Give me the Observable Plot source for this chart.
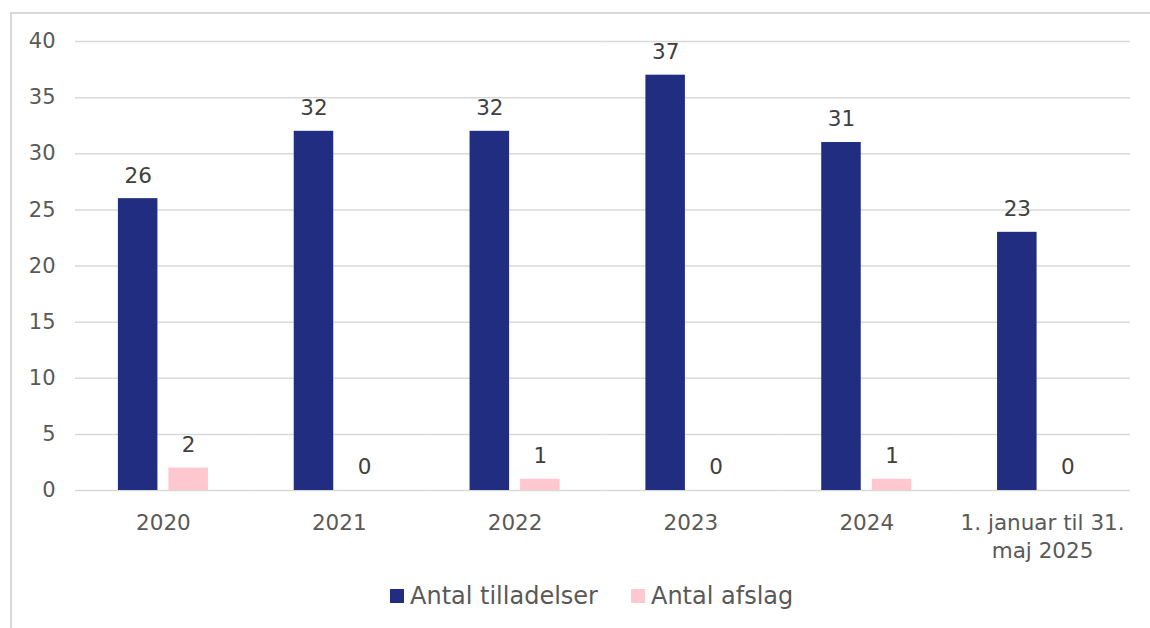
<!DOCTYPE html>
<html>
<head>
<meta charset="utf-8">
<script src="https://cdn.jsdelivr.net/npm/d3@7"></script>
<script src="https://cdn.jsdelivr.net/npm/@observablehq/plot@0.6"></script>
<style>
  html, body { margin: 0; padding: 0; background: #fff; overflow: hidden; }
  #wrap { position: relative; width: 1150px; height: 628px; font-family: "DejaVu Sans", Verdana, sans-serif; }
  #frame { position: absolute; left: 10px; top: 12px; width: 1300px; height: 800px; border-top: 2px solid #d9d9d9; border-left: 2px solid #d9d9d9; box-sizing: border-box; }
  #chart { position: absolute; left: 0; top: 0; }
  #legend { position: absolute; left: 390px; top: 582px; display: flex; align-items: center; font-size: 24px; color: #595959; white-space: nowrap; }
  #legend .item { display: flex; align-items: center; }
  #legend .sw { width: 14px; height: 14px; margin-right: 6px; }
</style>
</head>
<body>
<div id="wrap">
  <div id="frame"></div>
  <div id="chart"></div>
  <div id="legend"></div>
</div>
<script>
const categories = ["2020", "2021", "2022", "2023", "2024", "1. januar til 31. maj 2025"];
const categoryLabels = ["2020", "2021", "2022", "2023", "2024", "1. januar til 31.\nmaj 2025"];
const series = ["Antal tilladelser", "Antal afslag"];
const tilladelser = [26, 32, 32, 37, 31, 23];
const afslag = [2, 0, 1, 0, 1, 0];
const yTicks = [0, 5, 10, 15, 20, 25, 30, 35, 40];
const colors = ["#202d80", "#ffc7ce"];

const data = categories.flatMap((c, i) => [
  {cat: c, series: series[0], value: tilladelser[i]},
  {cat: c, series: series[1], value: afslag[i]}
]);
const labelOf = new Map(categories.map((c, i) => [c, categoryLabels[i]]));

const chart = Plot.plot({
  width: 1150,
  height: 575,
  marginTop: 41,
  marginBottom: 85,
  marginLeft: 75,
  marginRight: 20,
  style: {fontFamily: '"DejaVu Sans", Verdana, sans-serif', background: "transparent"},
  fx: {domain: categories, padding: 0, round: false, axis: null},
  x: {domain: series, paddingInner: 0.218, paddingOuter: 0.849, round: false, axis: null},
  y: {domain: [0, 40], axis: null},
  color: {domain: series, range: colors},
  marks: [
    Plot.ruleY(yTicks, {stroke: "#d9d9d9", strokeWidth: 1.5}),
    Plot.axisY(yTicks, {tickSize: 0, tickPadding: 20, fontSize: 21, fill: "#595959", label: null}),
    Plot.barY(data, {fx: "cat", x: "series", y: "value", fill: "series"}),
    Plot.text(data, {fx: "cat", x: "series", y: "value", text: d => String(d.value), lineAnchor: "middle", dy: -23, fontSize: 21.5, fill: "#404040"}),
    Plot.text(categories, {fx: d => d, text: d => labelOf.get(d), frameAnchor: "bottom", lineAnchor: "top", dy: 20, fontSize: 21.5, lineHeight: 1.3, fill: "#595959"})
  ]
});
document.getElementById("chart").appendChild(chart);

const legend = document.getElementById("legend");
series.forEach((s, i) => {
  const item = document.createElement("div");
  item.className = "item";
  if (i > 0) item.style.marginLeft = "33px";
  const sw = document.createElement("div");
  sw.className = "sw";
  sw.style.background = colors[i];
  const t = document.createElement("span");
  t.textContent = s;
  item.appendChild(sw);
  item.appendChild(t);
  legend.appendChild(item);
});
</script>
</body>
</html>
